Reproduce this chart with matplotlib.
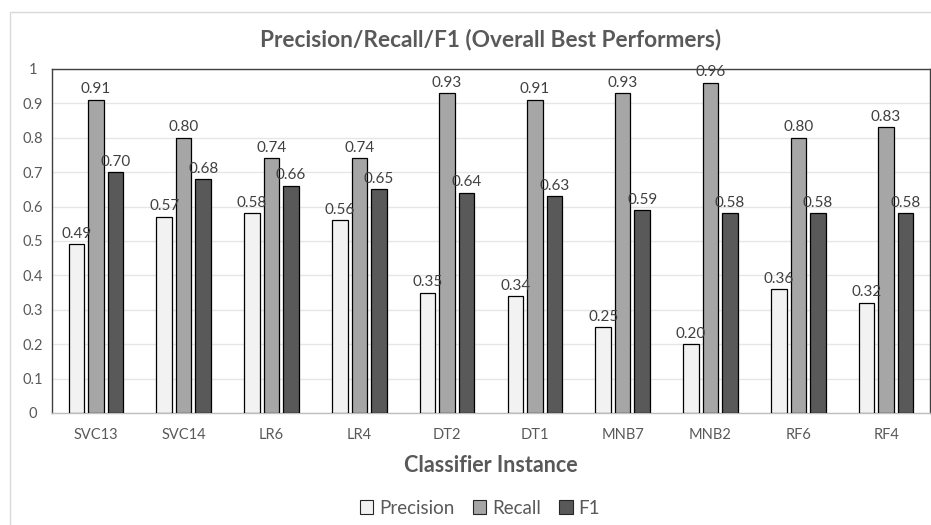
import matplotlib
matplotlib.use("Agg")
import matplotlib.pyplot as plt
from matplotlib.patches import Rectangle, Patch
import numpy as np

plt.rcParams['font.family'] = ['Lato', 'DejaVu Sans']

categories = ["SVC13", "SVC14", "LR6", "LR4", "DT2", "DT1", "MNB7", "MNB2", "RF6", "RF4"]
precision = [0.49, 0.57, 0.58, 0.56, 0.35, 0.34, 0.25, 0.20, 0.36, 0.32]
recall = [0.91, 0.80, 0.74, 0.74, 0.93, 0.91, 0.93, 0.96, 0.80, 0.83]
f1 = [0.70, 0.68, 0.66, 0.65, 0.64, 0.63, 0.59, 0.58, 0.58, 0.58]
series_names = ["Precision", "Recall", "F1"]
series_colors = ["#F2F2F2", "#A6A6A6", "#595959"]
yticks = [0, 0.1, 0.2, 0.3, 0.4, 0.5, 0.6, 0.7, 0.8, 0.9, 1]
ytick_labels = ["0", "0.1", "0.2", "0.3", "0.4", "0.5", "0.6", "0.7", "0.8", "0.9", "1"]

W, H = 931, 525
fig = plt.figure(figsize=(W / 100, H / 100), dpi=100)

# light outer chart frame
fig.patches.append(Rectangle((9.5 / W, -0.01), 1.0, 1 - 12 / H + 0.01,
                             transform=fig.transFigure, fill=False,
                             edgecolor="#D9D9D9", linewidth=1.0))

ax = fig.add_axes([52 / W, 1 - 413 / H, 878 / W, (413 - 69) / H])

x = np.arange(len(categories))
bw = 0.177
offs = [-0.222, 0.0, 0.222]
text_col = "#595959"
for vals, name, col, off in zip([precision, recall, f1], series_names, series_colors, offs):
    bars = ax.bar(x + off, vals, width=bw, color=col, edgecolor="black",
                  linewidth=0.9, label=name, zorder=3)
    for b, v in zip(bars, vals):
        ax.annotate(f"{v:.2f}", (b.get_x() + b.get_width() / 2, v),
                    xytext=(0, 2.5), textcoords="offset points",
                    ha="center", va="bottom", fontsize=11, color="#404040", zorder=4)

ax.set_xlim(-0.5, len(categories) - 0.5)
ax.set_ylim(0, 1)
ax.set_yticks(yticks)
ax.set_yticklabels(ytick_labels)
ax.set_xticks(x)
ax.set_xticklabels(categories)
ax.tick_params(axis="both", length=0, labelsize=10.5, colors=text_col)
ax.tick_params(axis="x", pad=11)
ax.tick_params(axis="y", pad=14)
for lab in ax.get_yticklabels():
    lab.set_horizontalalignment("center")
ax.grid(axis="y", color="#E6E6E6", linewidth=1.0, zorder=0)
for s in ax.spines.values():
    s.set_color("#404040")
    s.set_linewidth(1.0)
ax.spines["bottom"].set_color("#BFBFBF")

fig.text(0.5 * (52 + 930) / W, 1 - 40 / H, "Precision/Recall/F1 (Overall Best Performers)",
         ha="center", va="center", fontsize=16.3, fontweight="bold", color=text_col)
fig.text(0.5 * (52 + 930) / W, 1 - 466 / H, "Classifier Instance",
         ha="center", va="center", fontsize=15.5, fontweight="bold", color=text_col)

handles = [Patch(facecolor=c, edgecolor="#262626", linewidth=0.8) for c in series_colors]
fig.legend(handles, series_names, loc="center", bbox_to_anchor=(480 / W, 1 - 508 / H),
           ncol=3, frameon=False, fontsize=13.5, handlelength=0.7, handleheight=0.7,
           handletextpad=0.3, columnspacing=1.0, labelcolor=text_col)

fig.savefig("out.png", dpi=100)
